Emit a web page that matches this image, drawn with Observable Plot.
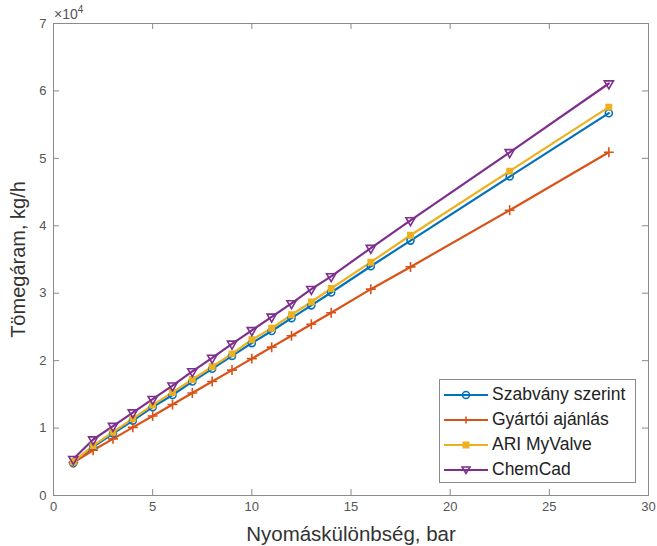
<!DOCTYPE html>
<html>
<head>
<meta charset="utf-8">
<script src="https://cdn.jsdelivr.net/npm/d3@7"></script>
<script src="https://cdn.jsdelivr.net/npm/@observablehq/plot@0.6"></script>
<style>
  body { margin: 0; background: #fff; }
  #wrap { position: relative; width: 657px; height: 546px; font-family: "Liberation Sans", Arial, sans-serif; }
  #exp { position: absolute; left: 54px; top: 4px; font-size: 14px; color: #555; }
  #exp sup { font-size: 10px; }
  #legend { position: absolute; left: 439px; top: 379px; width: 197px; height: 104px; border: 1px solid #8a8a8a; background: #fff; box-sizing: border-box; }
  .row { position: absolute; left: 4px; height: 25px; display: flex; align-items: center; font-size: 17.5px; color: #222; }
  .row svg { margin-right: 2px; }
</style>
</head>
<body>
<div id="wrap"></div>
<script>
const xs = [1,2,3,4,5,6,7,8,9,10,11,12,13,14,16,18,23,28];
const szabvany = [4800,7200,9200,11100,13100,14900,16900,18800,20700,22600,24400,26300,28200,30100,34000,37800,47300,56700];
const gyartoi  = [4900,6700,8400,10100,11800,13500,15200,16900,18600,20300,22000,23700,25400,27100,30600,33900,42300,50900];
const ari      = [5000,7400,9400,11400,13400,15300,17200,19100,21000,23100,24800,26800,28700,30700,34600,38600,48100,57600];
const chemcad  = [5400,8300,10300,12300,14300,16300,18400,20400,22500,24500,26500,28500,30600,32500,36700,40800,50900,61100];
const seriesNames = ["Szabvány szerint", "Gyártói ajánlás", "ARI MyValve", "ChemCad"];
const colors = ["#0072BD", "#D95319", "#EDB120", "#7E2F8E"];
const xTicks = [0,5,10,15,20,25,30];
const yTicks = [0,10000,20000,30000,40000,50000,60000,70000];

const allSeries = [szabvany, gyartoi, ari, chemcad];
const data = allSeries.flatMap((vals, i) => vals.map((v, j) => ({x: xs[j], y: v, s: seriesNames[i]})));
const bySeries = name => data.filter(d => d.s === name);

const W = 657, H = 546, mL = 53, mR = 9, mT = 23, mB = 51;
const fw = W - mL - mR, fh = H - mT - mB;
const axisColor = "#8a8a8a";
const tl = 6;

const chart = Plot.plot({
  width: W, height: H,
  marginLeft: mL, marginRight: mR, marginTop: mT, marginBottom: mB,
  style: {fontFamily: "Liberation Sans, Arial, sans-serif", background: "#fff"},
  x: {domain: [0, 30]},
  y: {domain: [0, 70000]},
  color: {domain: seriesNames, range: colors},
  marks: [
    Plot.frame({stroke: axisColor, strokeWidth: 1}),
    Plot.tickX(xTicks, {x: d => d, stroke: axisColor, insetTop: fh - tl}),
    Plot.tickX(xTicks, {x: d => d, stroke: axisColor, insetBottom: fh - tl}),
    Plot.tickY(yTicks, {y: d => d, stroke: axisColor, insetRight: fw - tl}),
    Plot.tickY(yTicks, {y: d => d, stroke: axisColor, insetLeft: fw - tl}),
    Plot.axisX({ticks: xTicks, tickSize: 0, tickPadding: 6, fontSize: 13, color: "#555", label: null}),
    Plot.axisY({ticks: yTicks, tickSize: 0, tickPadding: 7, fontSize: 13, color: "#555", tickFormat: d => d / 10000, label: null}),
    Plot.line(data, {x: "x", y: "y", z: "s", stroke: "s", strokeWidth: 2.2}),
    Plot.dot(bySeries(seriesNames[0]), {x: "x", y: "y", symbol: "circle", r: 3.5, stroke: colors[0], strokeWidth: 1.6, fill: "none"}),
    Plot.dot(bySeries(seriesNames[1]), {x: "x", y: "y", symbol: "plus", r: 3.3, stroke: colors[1], strokeWidth: 1.6}),
    Plot.dot(bySeries(seriesNames[2]), {x: "x", y: "y", symbol: "square", r: 3.2, stroke: colors[2], strokeWidth: 1.2, fill: colors[2]}),
    Plot.dot(bySeries(seriesNames[3]), {x: "x", y: "y", symbol: "triangle", rotate: 180, r: 3.4, stroke: colors[3], strokeWidth: 1.6, fill: "none"}),
    Plot.text(["Nyomáskülönbség, bar"], {frameAnchor: "bottom", lineAnchor: "middle", dy: 39, fontSize: 20.5, fill: "#333"}),
    Plot.text(["Tömegáram, kg/h"], {frameAnchor: "left", textAnchor: "middle", lineAnchor: "middle", dx: -35, rotate: -90, fontSize: 20, fill: "#333"})
  ]
});

const wrap = document.getElementById("wrap");
wrap.appendChild(chart);

const exp = document.createElement("div");
exp.id = "exp";
exp.innerHTML = "×10<sup>4</sup>";
wrap.appendChild(exp);

const legend = document.createElement("div");
legend.id = "legend";
const symSvg = (i) => {
  const c = colors[i];
  let m = "";
  if (i === 0) m = `<circle cx="22" cy="8" r="3.5" fill="none" stroke="${c}" stroke-width="1.6"/>`;
  if (i === 1) m = `<path d="M18.5,8H25.5M22,4.5V11.5" stroke="${c}" stroke-width="1.6"/>`;
  if (i === 2) m = `<rect x="19" y="5" width="6" height="6" fill="${c}" stroke="${c}"/>`;
  if (i === 3) m = `<path d="M18,5L26,5L22,11.5Z" fill="none" stroke="${c}" stroke-width="1.6"/>`;
  return `<svg width="46" height="16"><line x1="0" y1="8" x2="44" y2="8" stroke="${c}" stroke-width="2.2"/>${m}</svg>`;
};
seriesNames.forEach((n, i) => {
  const row = document.createElement("div");
  row.className = "row";
  row.style.top = (2 + i * 25) + "px";
  row.innerHTML = symSvg(i) + `<span>${n}</span>`;
  legend.appendChild(row);
});
wrap.appendChild(legend);
</script>
</body>
</html>
